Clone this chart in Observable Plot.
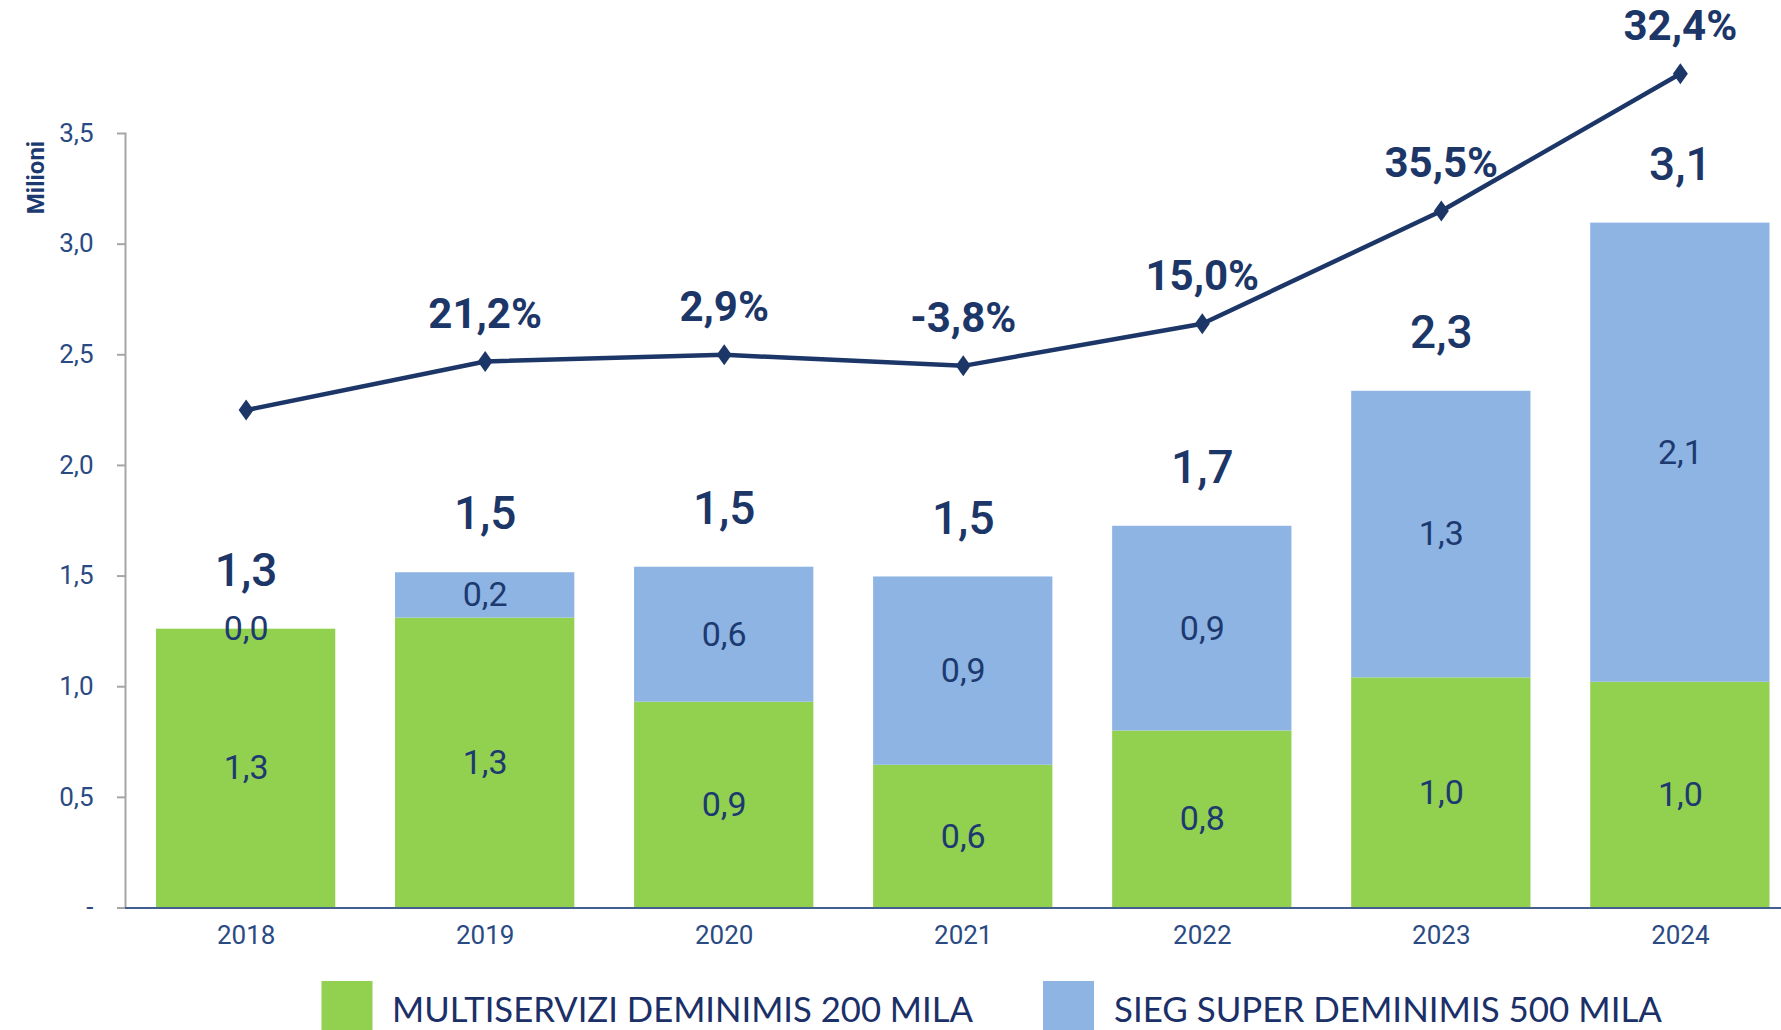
<!DOCTYPE html>
<html>
<head>
<meta charset="utf-8">
<script src="https://cdn.jsdelivr.net/npm/d3@7"></script>
<script src="https://cdn.jsdelivr.net/npm/@observablehq/plot@0.6"></script>
<style>
  html, body { margin: 0; padding: 0; background: #ffffff; }
  svg { display: block; }
</style>
</head>
<body>
<div id="chart"></div>
<script>
// ---- data ----
const years = ["2018", "2019", "2020", "2021", "2022", "2023", "2024"];
const multiservizi = [1.26, 1.31, 0.93, 0.645, 0.80, 1.04, 1.02];   // MULTISERVIZI DEMINIMIS 200 MILA (milioni)
const sieg = [0.00, 0.205, 0.61, 0.851, 0.925, 1.295, 2.075];        // SIEG SUPER DEMINIMIS 500 MILA (milioni)
const trendLevel = [2.25, 2.47, 2.50, 2.45, 2.64, 3.15, 3.77];      // growth line, read against left axis
const growthPct = [null, 21.2, 2.9, -3.8, 15.0, 35.5, 32.4];         // labels on the line (%)
const seriesNames = ["MULTISERVIZI DEMINIMIS 200 MILA", "SIEG SUPER DEMINIMIS 500 MILA"];
const yTicks = [0, 0.5, 1.0, 1.5, 2.0, 2.5, 3.0, 3.5];
const yTitle = "Milioni";

// ---- styles ----
const GREEN = "#92d050", BLUE = "#8eb4e3", NAVY = "#1c3668", TEXT = "#1d3a70", AXIS = "#a6a6a6";

const it = d3.formatLocale({decimal: ",", thousands: ".", grouping: [3], currency: ["€", ""], minus: "-"});
const f1 = it.format(".1f");

const stacked = [];
years.forEach((y, i) => stacked.push({year: y, series: seriesNames[0], value: multiservizi[i]}));
years.forEach((y, i) => stacked.push({year: y, series: seriesNames[1], value: sieg[i]}));
const totals = years.map((y, i) => ({year: y, total: multiservizi[i] + sieg[i]}));
const trend = years.map((y, i) => ({year: y, level: trendLevel[i], growth: growthPct[i]}));

const tallDiamond = {
  draw(ctx) {
    const w = 7.5, h = 10.5;
    ctx.moveTo(0, -h); ctx.lineTo(w, 0); ctx.lineTo(0, h); ctx.lineTo(-w, 0); ctx.closePath();
  }
};

const W = 1781, H = 975;
const plot = Plot.plot({
  width: W,
  height: H,
  marginLeft: 125,
  marginRight: 0,
  marginTop: 133,
  marginBottom: 67.5,
  style: {fontFamily: "Roboto, 'Liberation Sans', sans-serif", background: "#ffffff", overflow: "visible"},
  x: {domain: years, range: [156, 1769.5], paddingInner: 0.25, paddingOuter: 0, round: false, label: null},
  y: {domain: [0, 3.5], label: null},
  color: {domain: seriesNames, range: [GREEN, BLUE]},
  marks: [
    Plot.barY(stacked, {x: "year", y: "value", fill: "series"}),
    Plot.frame({anchor: "left", stroke: AXIS, strokeWidth: 2}),
    Plot.ruleY([0], {stroke: "#41608f", strokeWidth: 2}),
    Plot.axisY({ticks: yTicks, tickSize: 8, tickPadding: 24, label: null,
      tickFormat: d => d === 0 ? "-" : f1(d),
      stroke: AXIS, strokeWidth: 2, fill: "#2a4a84", fontSize: 26, fontWeight: 400}),
    Plot.axisX({tickSize: 0, tickPadding: 18, label: null, fill: "#2a4a84", fontSize: 26}),
    Plot.text([yTitle], {frameAnchor: "top-left", dx: -99, dy: 44, rotate: -90, textAnchor: "middle",
      fill: TEXT, fontWeight: "bold", fontSize: 24}),
    Plot.text(stacked, Plot.stackY({x: "year", y: "value", text: d => f1(d.value),
      fill: TEXT, fontSize: 34, fontWeight: 400})),
    Plot.text(totals, {x: "year", y: "total", text: d => f1(d.total), dy: -58,
      fill: NAVY, fontSize: 46, fontWeight: 500, letterSpacing: -1}),
    Plot.line(trend, {x: "year", y: "level", stroke: NAVY, strokeWidth: 4.5}),
    Plot.dot(trend, {x: "year", y: "level", symbol: tallDiamond, fill: NAVY, stroke: "none", r: 8}),
    Plot.text(trend.filter(d => d.growth != null), {x: "year", y: "level", text: d => f1(d.growth) + "%",
      dy: -47, fill: NAVY, fontSize: 42, fontWeight: 700})
  ]
});
document.getElementById("chart").appendChild(plot);

// ---- legend (below the plot) ----
const legend = d3.select("#chart").append("svg")
  .attr("width", W).attr("height", 1030 - H)
  .style("font-family", "Lato, 'Open Sans', sans-serif");
const legendItems = [
  {name: seriesNames[0], color: GREEN, rx: 321.5, tx: 392, len: 581},
  {name: seriesNames[1], color: BLUE, rx: 1043, tx: 1114, len: 548}
];
legendItems.forEach(d => {
  legend.append("rect").attr("x", d.rx).attr("y", 6).attr("width", 51).attr("height", 60).attr("fill", d.color);
  legend.append("text").attr("x", d.tx).attr("y", 47).attr("fill", "#1b3068")
    .attr("font-size", 35).attr("textLength", d.len).attr("lengthAdjust", "spacingAndGlyphs")
    .text(d.name);
});
</script>
</body>
</html>
